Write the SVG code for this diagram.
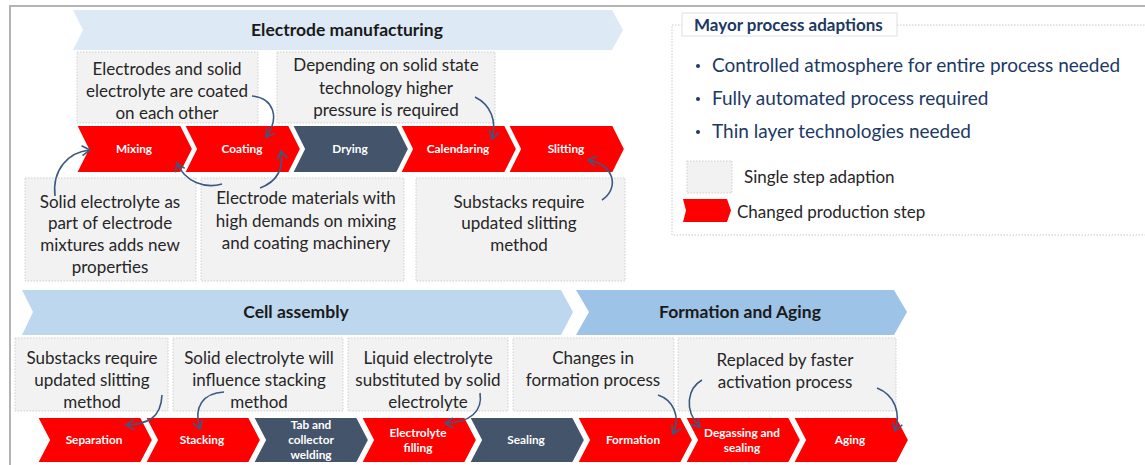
<svg xmlns="http://www.w3.org/2000/svg" width="1145" height="465" viewBox="0 0 1145 465">
<defs>
<style>
.bn{font-family:Lato,"Liberation Sans",sans-serif;font-weight:bold;font-size:17.5px;fill:#1a1a1a;text-anchor:middle}
.box{fill:#f2f2f2;stroke:#cfcfcf;stroke-width:1;stroke-dasharray:1.5 1.5}
.bt{font-family:Lato,"Liberation Sans",sans-serif;font-size:17px;fill:#262626;text-anchor:middle}
.red{fill:#ff0000;stroke:#fff;stroke-width:2}
.dk{fill:#44546a;stroke:#fff;stroke-width:2}
.cl{font-family:Lato,"Liberation Sans",sans-serif;font-weight:bold;font-size:11.8px;fill:#fff;text-anchor:middle}
.lg{font-family:Lato,"Liberation Sans",sans-serif;font-size:19px;fill:#203864}
.lt{font-family:Lato,"Liberation Sans",sans-serif;font-size:17px;fill:#262626}
.cn{fill:none;stroke:#3b5a82;stroke-width:1.6;marker-end:url(#ah)}
</style>
<marker id="ah" markerWidth="12" markerHeight="12" refX="9" refY="6" orient="auto" markerUnits="userSpaceOnUse">
<path d="M1,1 L9,6 L1,11" fill="none" stroke="#3b5a82" stroke-width="1.6"/>
</marker>
</defs>
<rect x="0" y="0" width="1145" height="465" fill="#fff"/>
<path d="M10,466 L10,6 L1146,6" fill="none" stroke="#b4b4b4" stroke-width="2"/>

<!-- Banners -->
<g id="banner-electrode"><polygon points="73,10 612,10 623,30 612,50 73,50 83,30" fill="#dde9f5"/><text class="bn" x="347" y="36">Electrode manufacturing</text></g>
<g id="banner-cell"><polygon points="22,290 561,290 573,312 561,335 22,335 33,312" fill="#bdd7ee"/><text class="bn" x="296" y="318">Cell assembly</text></g>
<g id="banner-formation"><polygon points="576,290 894,290 907,312 894,335 576,335 589,312" fill="#9dc3e6"/><text class="bn" x="740" y="318">Formation and Aging</text></g>

<!-- Top boxes -->
<g id="box-coated"><rect class="box" x="77" y="52" width="181" height="71"/><text class="bt" x="167" y="75">Electrodes and solid</text><text class="bt" x="167" y="97">electrolyte are coated</text><text class="bt" x="167" y="119">on each other</text></g>
<g id="box-pressure"><rect class="box" x="277" y="52" width="218" height="71"/><text class="bt" x="386" y="71">Depending on solid state</text><text class="bt" x="386" y="94">technology higher</text><text class="bt" x="386" y="116">pressure is required</text></g>
<g id="box-mixtures"><rect class="box" x="25" y="178" width="171" height="103"/><text class="bt" x="110" y="208">Solid electrolyte as</text><text class="bt" x="110" y="229">part of electrode</text><text class="bt" x="110" y="251">mixtures adds new</text><text class="bt" x="110" y="273">properties</text></g>
<g id="box-materials"><rect class="box" x="201" y="178" width="203" height="103"/><text class="bt" x="306" y="204">Electrode materials with</text><text class="bt" x="306" y="227">high demands on mixing</text><text class="bt" x="306" y="249">and coating machinery</text></g>
<g id="box-slitting"><rect class="box" x="416" y="178" width="209" height="103"/><text class="bt" x="519" y="208">Substacks require</text><text class="bt" x="519" y="229">updated slitting</text><text class="bt" x="519" y="251">method</text></g>

<!-- Top chevrons -->
<g id="step-mixing"><polygon class="red" points="76,125 181,125 193,149 181,173 76,173 88,149"/><text class="cl" x="134" y="153">Mixing</text></g>
<g id="step-coating"><polygon class="red" points="184,125 289,125 301,149 289,173 184,173 196,149"/><text class="cl" x="242" y="153">Coating</text></g>
<g id="step-drying"><polygon class="dk" points="292,125 397,125 409,149 397,173 292,173 304,149"/><text class="cl" x="350" y="153">Drying</text></g>
<g id="step-calendaring"><polygon class="red" points="400,125 505,125 517,149 505,173 400,173 412,149"/><text class="cl" x="458" y="153">Calendaring</text></g>
<g id="step-slitting"><polygon class="red" points="508,125 613,125 625,149 613,173 508,173 520,149"/><text class="cl" x="566" y="153">Slitting</text></g>

<!-- Bottom boxes -->
<g id="box-substacks"><rect class="box" x="15" y="338" width="153" height="73"/><text class="bt" x="92" y="364">Substacks require</text><text class="bt" x="92" y="386">updated slitting</text><text class="bt" x="92" y="408">method</text></g>
<g id="box-stacking"><rect class="box" x="173" y="338" width="170" height="73"/><text class="bt" x="259" y="364">Solid electrolyte will</text><text class="bt" x="259" y="386">influence stacking</text><text class="bt" x="259" y="408">method</text></g>
<g id="box-liquid"><rect class="box" x="348" y="338" width="160" height="73"/><text class="bt" x="428" y="364">Liquid electrolyte</text><text class="bt" x="428" y="386">substituted by solid</text><text class="bt" x="428" y="408">electrolyte</text></g>
<g id="box-changes"><rect class="box" x="513" y="338" width="161" height="73"/><text class="bt" x="593" y="364">Changes in</text><text class="bt" x="593" y="386">formation process</text></g>
<g id="box-replaced"><rect class="box" x="678" y="338" width="218" height="73"/><text class="bt" x="785" y="366">Replaced by faster</text><text class="bt" x="785" y="388">activation process</text></g>

<!-- Bottom chevrons -->
<g id="step-separation"><polygon class="red" points="37,417 141,417 153,440 141,463 37,463 49,440"/><text class="cl" x="94" y="444">Separation</text></g>
<g id="step-stacking"><polygon class="red" points="145,417 249,417 261,440 249,463 145,463 157,440"/><text class="cl" x="202" y="444">Stacking</text></g>
<g id="step-tab"><polygon class="dk" points="253,417 357,417 369,440 357,463 253,463 265,440"/><text class="cl" x="311" y="429">Tab and</text><text class="cl" x="311" y="444">collector</text><text class="cl" x="311" y="459">welding</text></g>
<g id="step-filling"><polygon class="red" points="361,417 465,417 477,440 465,463 361,463 373,440"/><text class="cl" x="418" y="437">Electrolyte</text><text class="cl" x="418" y="452">filling</text></g>
<g id="step-sealing"><polygon class="dk" points="469,417 573,417 585,440 573,463 469,463 481,440"/><text class="cl" x="526" y="444">Sealing</text></g>
<g id="step-formation"><polygon class="red" points="577,417 681,417 693,440 681,463 577,463 589,440"/><text class="cl" x="633" y="444">Formation</text></g>
<g id="step-degassing"><polygon class="red" points="685,417 789,417 801,440 789,463 685,463 697,440"/><text class="cl" x="742" y="437">Degassing and</text><text class="cl" x="742" y="452">sealing</text></g>
<g id="step-aging"><polygon class="red" points="793,417 897,417 909,440 897,463 793,463 805,440"/><text class="cl" x="850" y="444">Aging</text></g>

<!-- Legend -->
<g id="legend">
<rect x="672" y="25" width="480" height="210" fill="#fff" stroke="#c8c8c8" stroke-width="1" stroke-dasharray="1.5 1.5"/>
<rect x="682" y="13" width="215" height="23" fill="#fff" stroke="#e0e0e0" stroke-width="1"/>
<text x="694" y="31" style="font-family:Lato,'Liberation Sans',sans-serif;font-weight:bold;font-size:17px;fill:#203864">Mayor process adaptions</text>
<circle cx="698" cy="66" r="2" fill="#203864"/><text class="lg" x="712" y="72">Controlled atmosphere for entire process needed</text>
<circle cx="698" cy="99" r="2" fill="#203864"/><text class="lg" x="712" y="105">Fully automated process required</text>
<circle cx="698" cy="132" r="2" fill="#203864"/><text class="lg" x="712" y="138">Thin layer technologies needed</text>
<rect class="box" x="687" y="161" width="45" height="32"/>
<text class="lt" x="744" y="183">Single step adaption</text>
<polygon points="683,199 727,199 731,210.5 727,222 683,222 686,210.5" fill="#ff0000"/>
<text class="lt" x="737" y="218">Changed production step</text>
</g>

<!-- Connectors -->
<g id="connectors">
<path class="cn" d="M252,96 C274,98 280,118 266,137"/>
<path class="cn" d="M475,97 C491,105 497,121 492,139"/>
<path class="cn" d="M55,196 C52,170 68,152 90,150"/>
<path class="cn" d="M222,184 C205,189 185,182 177,163"/>
<path class="cn" d="M260,188 C276,182 284,170 281,151"/>
<path class="cn" d="M602,200 C620,188 614,164 588,160"/>
<path class="cn" d="M162,395 C161,418 148,424 126,425"/>
<path class="cn" d="M224,392 C203,393 193,407 200,429"/>
<path class="cn" d="M480,393 C483,411 470,423 445,423"/>
<path class="cn" d="M658,395 C673,400 681,416 673,434"/>
<path class="cn" d="M702,380 C688,388 683,410 700,427"/>
<path class="cn" d="M877,388 C895,395 901,413 895,431"/>
</g>
</svg>
